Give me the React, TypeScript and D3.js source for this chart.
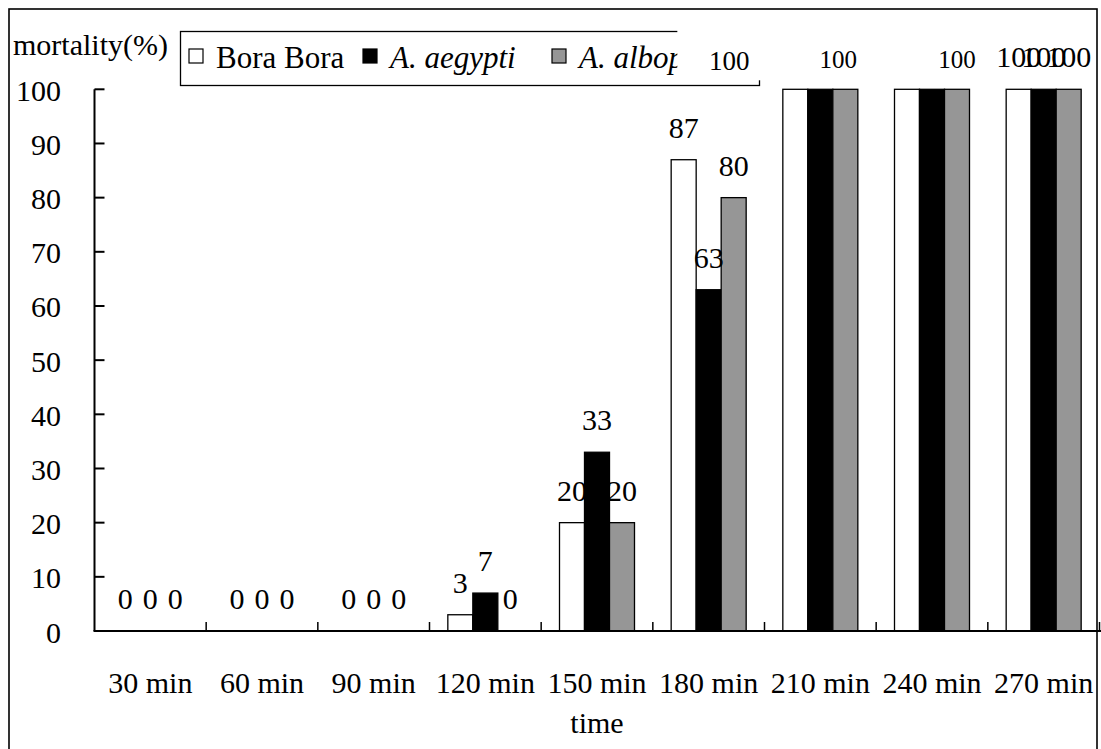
import React from 'react';
import * as d3 from 'd3';

// Mortality (%) over exposure time for three mosquito strains
const categories = ['30 min', '60 min', '90 min', '120 min', '150 min', '180 min', '210 min', '240 min', '270 min'];
const seriesNames = ['Bora Bora', 'A. aegypti', 'A. albopictus'];
const boraBora = [0, 0, 0, 3, 20, 87, 100, 100, 100];
const aegypti = [0, 0, 0, 7, 33, 63, 100, 100, 100];
const albopictus = [0, 0, 0, 0, 20, 80, 100, 100, 100];
const yTicks = [0, 10, 20, 30, 40, 50, 60, 70, 80, 90, 100];

const seriesValues = [boraBora, aegypti, albopictus];
const seriesFill = ['#ffffff', '#000000', '#969696'];
const seriesItalic = [false, true, true];

// Hand-placed data labels (nudged / hidden where they would collide)
type Tweak = { dx?: number; dy?: number; size?: number; hidden?: boolean; boxed?: boolean };
const labelTweaks: Record<string, Tweak> = {
  '210 min|0': { dx: -66, dy: 3, size: 27, boxed: true },
  '210 min|1': { hidden: true },
  '210 min|2': { dx: -7, dy: 1, size: 25 },
  '240 min|0': { hidden: true },
  '240 min|1': { hidden: true },
  '240 min|2': { dy: 1, size: 25 },
};

const FONT = '"Liberation Serif", "Times New Roman", serif';

export default function App() {
  const W = 1101;
  const H = 749;
  const left = 94.5;
  const right = 1099.5;
  const top = 89.3;
  const bottom = 631;

  const x = d3.scaleBand<string>().domain(categories).range([left, right]).padding(0);
  const bw = x.bandwidth();
  const barW = 25;
  const groupW = barW * seriesNames.length;
  const xi = d3
    .scaleBand<string>()
    .domain(seriesNames)
    .range([(bw - groupW) / 2, (bw + groupW) / 2])
    .padding(0);
  const y = d3.scaleLinear().domain([0, 100]).range([bottom, top]);

  const bars: React.ReactNode[] = [];
  const labels: React.ReactNode[] = [];
  categories.forEach((c, ci) => {
    seriesNames.forEach((s, si) => {
      const v = seriesValues[si][ci];
      const bx = (x(c) ?? 0) + (xi(s) ?? 0);
      const by = y(v);
      if (v > 0) {
        bars.push(
          <rect
            key={`b-${c}-${s}`}
            x={bx}
            y={by}
            width={xi.bandwidth()}
            height={bottom - by}
            fill={seriesFill[si]}
            stroke="#000"
            strokeWidth={1.3}
          />
        );
      }
      const t = labelTweaks[`${c}|${si}`] || {};
      if (t.hidden) return;
      const cx = bx + xi.bandwidth() / 2 + (t.dx ?? 0);
      const base = by - 22 + (t.dy ?? 0);
      labels.push(
        <g key={`l-${c}-${s}`}>
          {t.boxed && <rect x={cx - 52} y={base - 50} width={84} height={60} fill="#fff" />}
          <text x={cx} y={base} textAnchor="middle" fontSize={t.size ?? 30} fill="#000">
            {d3.format('d')(v)}
          </text>
        </g>
      );
    });
  });

  const legendX = [189, 363, 552];
  const legendTextGap = 27;

  return (
    <svg
      width={W}
      height={H}
      style={{ position: 'absolute', left: 0, top: 0, background: '#fff' }}
      fontFamily={FONT}
    >
      <rect x={9} y={9} width={1088} height={760} fill="#fff" stroke="#000" strokeWidth={1.6} />

      {/* bars */}
      {bars}

      {/* y axis */}
      <line x1={left} x2={left} y1={top} y2={bottom} stroke="#000" strokeWidth={2} />
      {yTicks.map((t) => (
        <g key={`yt-${t}`}>
          <line x1={left} x2={left + 10} y1={y(t)} y2={y(t)} stroke="#000" strokeWidth={2} />
          <text x={61} y={y(t) + 11.5} textAnchor="end" fontSize={30}>
            {t}
          </text>
        </g>
      ))}
      <text x={13} y={55} fontSize={30}>
        mortality(%)
      </text>

      {/* x axis */}
      <line x1={left - 1} x2={right + 2} y1={bottom} y2={bottom} stroke="#000" strokeWidth={2} />
      {categories.map((c) => (
        <line
          key={`xt-${c}`}
          x1={(x(c) ?? 0) + bw}
          x2={(x(c) ?? 0) + bw}
          y1={bottom}
          y2={bottom - 9}
          stroke="#000"
          strokeWidth={1.5}
        />
      ))}
      {categories.map((c) => (
        <text key={`xl-${c}`} x={(x(c) ?? 0) + bw / 2} y={693} textAnchor="middle" fontSize={30}>
          {c}
        </text>
      ))}
      <text x={(left + right) / 2} y={733} textAnchor="middle" fontSize={30}>
        time
      </text>

      {/* legend */}
      <rect x={180.5} y={31.5} width={579} height={54} fill="#fff" stroke="#000" strokeWidth={1.3} />
      {seriesNames.map((s, i) => (
        <g key={`lg-${s}`}>
          <rect x={legendX[i]} y={49} width={14} height={14} fill={seriesFill[i]} stroke="#000" strokeWidth={1.2} />
          <text
            x={legendX[i] + legendTextGap}
            y={68}
            fontSize={31}
            fontStyle={seriesItalic[i] ? 'italic' : 'normal'}
          >
            {s}
          </text>
        </g>
      ))}

      {/* data labels */}
      {labels}
    </svg>
  );
}
